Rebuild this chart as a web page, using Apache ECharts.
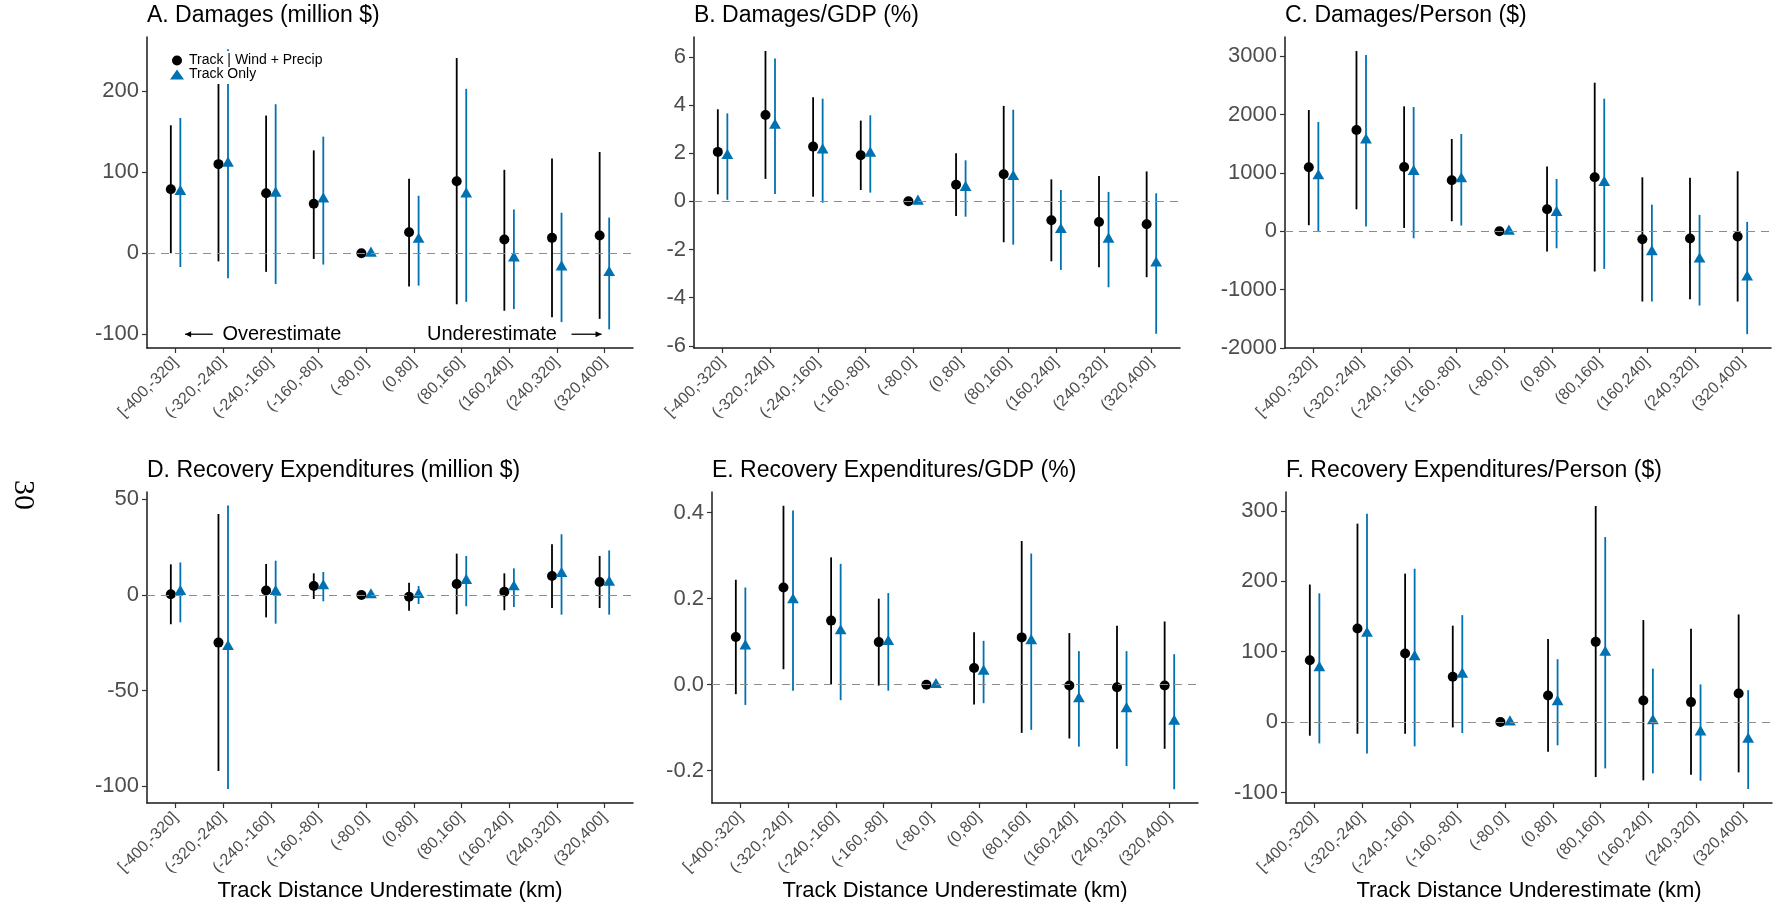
<!DOCTYPE html>
<html>
<head>
<meta charset="utf-8">
<script src="https://cdn.jsdelivr.net/npm/echarts@6/dist/echarts.min.js"></script>
<style>
  html, body { margin: 0; padding: 0; background: #ffffff; }
  #chart { width: 1773px; height: 908px; }
</style>
</head>
<body>
<div id="chart"></div>
<script>
// Bins of track distance underestimate (km)
const categories = ['[-400,-320]', '(-320,-240]', '(-240,-160]', '(-160,-80]', '(-80,0]',
                    '(0,80]', '(80,160]', '(160,240]', '(240,320]', '(320,400]'];

// Each row: [estimate, lower CI, upper CI]; bin (-80,0] is the reference bin.
// A. Damages (million $)
const damagesFull  = [[79, 0, 158], [110, -10, 212], [74, -23, 170], [61, -7, 127], [0, 0, 0],
                      [26, -41, 92], [89, -63, 241], [17, -71, 103], [19, -79, 117], [22, -81, 125]];
const damagesTrack = [[76, -17, 167], [111, -31, 252], [74, -38, 184], [67, -14, 144], [0, 0, 0],
                      [17, -40, 71], [73, -60, 203], [-6, -69, 54], [-17, -85, 50], [-24, -94, 44]];
const damagesTicks = [-100, 0, 100, 200];

// B. Damages/GDP (%)
const dmgGdpFull  = [[2.05, 0.29, 3.82], [3.58, 0.93, 6.24], [2.27, 0.19, 4.32], [1.91, 0.47, 3.35], [0, 0, 0],
                     [0.69, -0.61, 1.99], [1.12, -1.70, 3.96], [-0.79, -2.49, 0.91], [-0.86, -2.74, 1.05], [-0.95, -3.15, 1.24]];
const dmgGdpTrack = [[1.90, 0.06, 3.65], [3.15, 0.30, 5.93], [2.13, -0.06, 4.26], [1.99, 0.36, 3.57], [0, 0, 0],
                     [0.57, -0.64, 1.70], [1.02, -1.80, 3.80], [-1.18, -2.85, 0.47], [-1.58, -3.57, 0.39], [-2.57, -5.50, 0.33]];
const dmgGdpTicks = [-6, -4, -2, 0, 2, 4, 6];

// C. Damages/Person ($)
const dmgPersonFull  = [[1095, 103, 2076], [1734, 376, 3086], [1101, 57, 2139], [873, 171, 1580], [0, 0, 0],
                        [376, -348, 1107], [924, -690, 2544], [-137, -1204, 924], [-125, -1164, 918], [-91, -1204, 1027]];
const dmgPersonTrack = [[947, 0, 1871], [1563, 80, 3017], [1021, -120, 2128], [896, 97, 1666], [0, 0, 0],
                        [319, -291, 896], [833, -645, 2270], [-354, -1204, 456], [-479, -1272, 280], [-787, -1763, 160]];
const dmgPersonTicks = [-2000, -1000, 0, 1000, 2000, 3000];

// D. Recovery Expenditures (million $)
const recoveryFull  = [[0.4, -15.3, 16], [-24.9, -92, 42.3], [2.3, -11.7, 16.2], [4.7, -2.1, 11.3], [0, 0, 0],
                       [-0.9, -8.2, 6.4], [5.7, -10.1, 21.6], [1.7, -8, 11.3], [9.9, -6.8, 26.5], [6.8, -6.8, 20.4]];
const recoveryTrack = [[1.7, -14.3, 17], [-27, -101.4, 46.7], [1.7, -15, 17.9], [4.7, -3.3, 12], [0, 0, 0],
                       [0.2, -4.7, 4.7], [7.5, -5.9, 20.4], [4.2, -6.3, 13.9], [11.1, -10.3, 31.7], [6.6, -10.3, 23.3]];
const recoveryTicks = [-100, -50, 0, 50];

// E. Recovery Expenditures/GDP (%)
const recGdpFull  = [[0.111, -0.022, 0.244], [0.226, 0.036, 0.416], [0.149, 0.000, 0.296], [0.099, -0.002, 0.200], [0, 0, 0],
                     [0.039, -0.046, 0.122], [0.110, -0.112, 0.334], [-0.002, -0.125, 0.120], [-0.006, -0.149, 0.137], [-0.002, -0.149, 0.147]];
const recGdpTrack = [[0.090, -0.047, 0.226], [0.197, -0.014, 0.405], [0.125, -0.036, 0.281], [0.100, -0.014, 0.213], [0, 0, 0],
                     [0.031, -0.043, 0.102], [0.102, -0.105, 0.305], [-0.033, -0.144, 0.078], [-0.056, -0.189, 0.078], [-0.085, -0.243, 0.071]];
const recGdpTicks = [-0.2, 0, 0.2, 0.4];

// F. Recovery Expenditures/Person ($)
const recPersonFull  = [[88, -19.4, 195.5], [133, -16.6, 282], [97.5, -16.6, 211], [64.4, -7.6, 137], [0, 0, 0],
                        [37.9, -42, 118], [114, -78, 307], [30.8, -82.8, 145], [28.4, -74.8, 132.5], [40.7, -71.5, 153]];
const recPersonTrack = [[77, -30.3, 183], [126, -44.5, 296], [92.8, -34.5, 218], [68, -15.6, 152], [0, 0, 0],
                        [28.9, -33, 89.4], [99, -65.8, 263], [1.9, -72.9, 76], [-14.2, -83.3, 53.5], [-24.6, -95.1, 45.4]];
const recPersonTicks = [-100, 0, 100, 200, 300];

const seriesNames = ['Track | Wind + Precip', 'Track Only'];
const xTitle = 'Track Distance Underestimate (km)';

const FONT = "'Liberation Sans', Arial, Helvetica, sans-serif";
const BLACK = '#000000';
const BLUE = '#0072B2';
const PANEL_W = 486, PANEL_H = 311;

const panels = [
  { title: 'A. Damages (million $)',               full: damagesFull,    track: damagesTrack,   ticks: damagesTicks,   range: [-117, 267],     left: 147,  top: 37,  fmt: v => String(v) },
  { title: 'B. Damages/GDP (%)',                   full: dmgGdpFull,     track: dmgGdpTrack,    ticks: dmgGdpTicks,    range: [-6.09, 6.82],   left: 694,  top: 37,  fmt: v => String(v) },
  { title: 'C. Damages/Person ($)',                full: dmgPersonFull,  track: dmgPersonTrack, ticks: dmgPersonTicks, range: [-2000, 3327],   left: 1285, top: 37,  fmt: v => String(v) },
  { title: 'D. Recovery Expenditures (million $)', full: recoveryFull,   track: recoveryTrack,  ticks: recoveryTicks,  range: [-108.7, 53.8],  left: 147,  top: 492, fmt: v => String(v), xName: true },
  { title: 'E. Recovery Expenditures/GDP (%)',     full: recGdpFull,     track: recGdpTrack,    ticks: recGdpTicks,    range: [-0.275, 0.448], left: 712,  top: 492, fmt: v => v.toFixed(1), xName: true },
  { title: 'F. Recovery Expenditures/Person ($)',  full: recPersonFull,  track: recPersonTrack, ticks: recPersonTicks, range: [-115, 327],     left: 1286, top: 492, fmt: v => String(v), xName: true }
];

const catIdx = categories.map((_, i) => i);

// Point estimate with a vertical confidence interval, dodged horizontally
function pointRange(color, shape, dodge) {
  return function (params, api) {
    const x = api.value(0) + dodge;
    const est = api.coord([x, api.value(1)]);
    const lo = api.coord([x, api.value(2)]);
    const hi = api.coord([x, api.value(3)]);
    const children = [];
    if (api.value(2) !== api.value(3)) {
      children.push({ type: 'line', shape: { x1: lo[0], y1: lo[1], x2: hi[0], y2: hi[1] },
                      style: { stroke: color, lineWidth: 1.8 } });
    }
    if (shape === 'circle') {
      children.push({ type: 'circle', shape: { cx: est[0], cy: est[1], r: 5 }, style: { fill: color } });
    } else {
      children.push({ type: 'polygon',
                      shape: { points: [[est[0], est[1] - 6.8], [est[0] - 5.9, est[1] + 3.4], [est[0] + 5.9, est[1] + 3.4]] },
                      style: { fill: color } });
    }
    return { type: 'group', children: children };
  };
}

const grids = [], xAxes = [], yAxes = [], titles = [], series = [];

panels.forEach((p, k) => {
  grids.push({ left: p.left, top: p.top, width: PANEL_W, height: PANEL_H, containLabel: false });
  titles.push({ text: p.title, left: p.left, top: p.top - 33, padding: 0,
                textStyle: { fontFamily: FONT, fontSize: 23, fontWeight: 'normal', color: '#000' } });
  xAxes.push({
    type: 'value', gridIndex: k, min: -0.6, max: 9.6,
    axisLine: { show: true, onZero: false, lineStyle: { color: '#1a1a1a', width: 1.5 } },
    axisTick: { show: true, customValues: catIdx, length: 5, lineStyle: { color: '#333333', width: 1.2 } },
    axisLabel: { show: true, customValues: catIdx, rotate: 45, margin: 12, fontFamily: FONT, fontSize: 16, color: '#4D4D4D',
                 formatter: v => categories[Math.round(v)] },
    splitLine: { show: false },
    name: p.xName ? xTitle : '', nameLocation: 'middle', nameGap: 77,
    nameTextStyle: { fontFamily: FONT, fontSize: 22, color: '#000' }
  });
  yAxes.push({
    type: 'value', gridIndex: k, min: p.range[0], max: p.range[1],
    axisLine: { show: true, onZero: false, lineStyle: { color: '#1a1a1a', width: 1.5 } },
    axisTick: { show: true, customValues: p.ticks, length: 5, lineStyle: { color: '#333333', width: 1.2 } },
    axisLabel: { show: true, customValues: p.ticks, margin: 8, fontFamily: FONT, fontSize: 22, color: '#4D4D4D',
                 formatter: p.fmt },
    splitLine: { show: false }
  });
  // dashed reference line at zero
  series.push({
    type: 'line', xAxisIndex: k, yAxisIndex: k, data: [], silent: true, z: 1,
    markLine: { symbol: 'none', silent: true, label: { show: false },
                lineStyle: { type: [8, 6], color: '#8C8C8C', width: 1.2 },
                data: [{ yAxis: 0 }] }
  });
  series.push({
    type: 'custom', name: seriesNames[0], xAxisIndex: k, yAxisIndex: k, z: 3,
    itemStyle: { color: BLACK },
    renderItem: pointRange(BLACK, 'circle', -0.1),
    data: p.full.map((r, i) => [i, r[0], r[1], r[2]])
  });
  series.push({
    type: 'custom', name: seriesNames[1], xAxisIndex: k, yAxisIndex: k, z: 3,
    itemStyle: { color: BLUE },
    renderItem: pointRange(BLUE, 'triangle', 0.1),
    data: p.track.map((r, i) => [i, r[0], r[1], r[2]])
  });
});

const chart = echarts.init(document.getElementById('chart'), null, { renderer: 'canvas' });
chart.setOption({
  animation: false,
  backgroundColor: '#ffffff',
  textStyle: { fontFamily: FONT },
  title: titles,
  grid: grids,
  xAxis: xAxes,
  yAxis: yAxes,
  legend: {
    data: [{ name: seriesNames[0], icon: 'circle' }, { name: seriesNames[1], icon: 'triangle' }],
    orient: 'vertical', left: 168, top: 51, padding: [2, 4, 2, 2],
    itemWidth: 14, itemHeight: 10, itemGap: -1, selectedMode: false,
    backgroundColor: '#ffffff',
    textStyle: { fontFamily: FONT, fontSize: 14, color: '#000', lineHeight: 15 }
  },
  series: series
});

// Direction notes in panel A, placed in its data coordinates
const noteY = -100;
const toPx = (x, y) => chart.convertToPixel({ xAxisIndex: 0, yAxisIndex: 0 }, [x, y]);
const leftArrow = [toPx(0.78, noteY), toPx(0.2, noteY)];
const rightArrow = [toPx(8.31, noteY), toPx(8.94, noteY)];
const overPos = toPx(2.23, noteY);
const underPos = toPx(6.64, noteY);

function arrow(from, to) {
  const dir = Math.sign(to[0] - from[0]);
  return [
    { type: 'line', shape: { x1: from[0], y1: from[1], x2: to[0], y2: to[1] }, style: { stroke: '#000', lineWidth: 1.3 } },
    { type: 'polygon', shape: { points: [[to[0], to[1]], [to[0] - dir * 6, to[1] - 3], [to[0] - dir * 6, to[1] + 3]] },
      style: { fill: '#000' } }
  ];
}

chart.setOption({
  graphic: [
    ...arrow(leftArrow[0], leftArrow[1]),
    ...arrow(rightArrow[0], rightArrow[1]),
    { type: 'text', x: overPos[0], y: overPos[1],
      style: { text: 'Overestimate', font: '20px ' + FONT, fill: '#000', align: 'center', verticalAlign: 'middle' } },
    { type: 'text', x: underPos[0], y: underPos[1],
      style: { text: 'Underestimate', font: '20px ' + FONT, fill: '#000', align: 'center', verticalAlign: 'middle' } },
    // page number in the margin
    { type: 'text', x: 23, y: 495, rotation: -Math.PI / 2,
      style: { text: '30', font: "30px 'Liberation Serif', 'DejaVu Serif', serif", fill: '#000', align: 'center', verticalAlign: 'middle' } }
  ]
});
</script>
</body>
</html>
